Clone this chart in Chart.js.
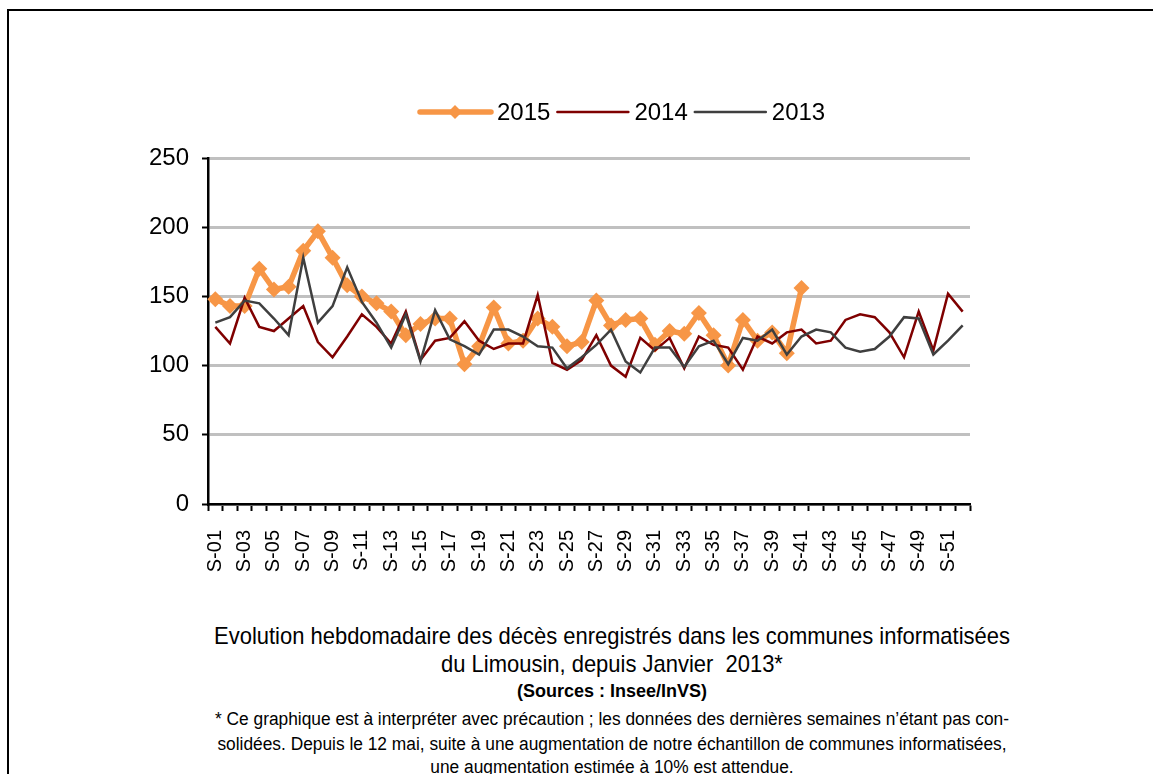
<!DOCTYPE html>
<html>
<head>
<meta charset="utf-8">
<script src="https://cdn.jsdelivr.net/npm/chart.js@4.4.1/dist/chart.umd.min.js"></script>
<style>
  html, body { margin: 0; padding: 0; background: #fff; }
  body { width: 1153px; height: 774px; position: relative; overflow: hidden; }
  #frame { position: absolute; left: 7px; top: 9px; width: 1160px; height: 800px;
           border-top: 2px solid #000; border-left: 2px solid #000; }
  #wrap { position: absolute; left: 0; top: 0; width: 1000px; height: 600px; }
  .txt { position: absolute; left: 112px; width: 1000px; text-align: center; color: #000;
         font-family: "Liberation Sans", Arial, sans-serif; white-space: nowrap;
         transform-origin: 50% 50%; }
  .t1 { font-size: 24px; transform: scaleX(0.915); }
  .src { font-size: 18px; font-weight: bold; transform: scaleX(1.0); }
  .note { font-size: 18px; transform: scaleX(0.963); }
</style>
</head>
<body>
<div id="frame"></div>
<div id="wrap"><canvas id="chart"></canvas></div>
<div class="txt t1" style="top:622px">Evolution hebdomadaire des décès enregistrés dans les communes informatisées</div>
<div class="txt t1" style="top:650px">du Limousin, depuis Janvier&nbsp; 2013*</div>
<div class="txt src" style="top:681px">(Sources : Insee/InVS)</div>
<div class="txt note" style="top:709px">* Ce graphique est à interpréter avec précaution ; les données des dernières semaines n’étant pas con-</div>
<div class="txt note" style="top:734px">solidées. Depuis le 12 mai, suite à une augmentation de notre échantillon de communes informatisées,</div>
<div class="txt note" style="top:757px">une augmentation estimée à 10% est attendue.</div>
<script>
// semaines S-01 .. S-52
const weeks = [];
for (let i = 1; i <= 52; i++) weeks.push('S-' + String(i).padStart(2, '0'));

const yTicks = [0, 50, 100, 150, 200, 250];

const deaths2015 = [148, 143, 143, 170, 155, 157, 183, 197, 178, 158, 150, 145, 139, 122, 130, 134, 134, 101,
  114, 142, 116, 118, 134, 128, 114, 117, 147, 129, 133, 134, 115, 125, 123, 138, 122, 100, 133, 118, 124, 109, 156];

const deaths2014 = [128, 116, 149, 128, 125, 134, 143, 117, 106, 121, 137, 128, 116, 139, 104, 118, 120, 132,
  118, 112, 116, 116, 151, 102, 97, 104, 122, 100, 92, 120, 111, 120, 98, 121, 115, 113, 97, 121, 116, 124,
  126, 116, 118, 133, 137, 135, 124, 106, 139, 111, 152, 139];

const deaths2013 = [131, 135, 147, 145, 134, 122, 178, 131, 143, 171, 146, 131, 113, 137, 103, 140, 119, 114,
  108, 126, 126, 121, 114, 113, 98, 106, 115, 126, 103, 95, 113, 113, 99, 114, 118, 101, 120, 118, 126, 108,
  121, 126, 124, 113, 110, 112, 121, 135, 134, 108, 118, 129];

// semaines 2015 pas encore connues -> null
const data2015 = weeks.map((w, i) => i < deaths2015.length ? deaths2015[i] : null);

const FONT = "'Liberation Sans', Arial, sans-serif";

// legende dessinee a la main (ligne + marqueur comme dans Excel)
const lineLegend = {
  id: 'lineLegend',
  afterDraw(chart) {
    const c = chart.ctx;
    const y = 112;
    let x = 420;
    c.save();
    c.font = '24px ' + FONT;
    c.textBaseline = 'middle';
    chart.data.datasets.forEach(ds => {
      c.strokeStyle = ds.borderColor;
      c.lineWidth = ds.borderWidth;
      c.lineCap = 'round';
      c.beginPath();
      c.moveTo(x, y);
      c.lineTo(x + 71, y);
      c.stroke();
      if (ds.pointRadius > 0) {
        c.fillStyle = ds.borderColor;
        c.beginPath();
        c.moveTo(x + 35, y - 7);
        c.lineTo(x + 42, y);
        c.lineTo(x + 35, y + 7);
        c.lineTo(x + 28, y);
        c.closePath();
        c.fill();
      }
      c.fillStyle = '#000';
      c.fillText(ds.label, x + 77, y + 1);
      x += 77 + c.measureText(ds.label).width + 7;
    });
    c.restore();
  }
};

const ctx = document.getElementById('chart').getContext('2d');
new Chart(ctx, {
  type: 'line',
  data: {
    labels: weeks,
    datasets: [
      {
        label: '2015',
        data: data2015,
        borderColor: '#F79646',
        backgroundColor: '#F79646',
        borderWidth: 5.5,
        pointStyle: 'rectRot',
        pointRadius: 8,
        pointBorderWidth: 0,
        tension: 0,
        spanGaps: false,
        order: 3,
      },
      {
        label: '2014',
        data: deaths2014,
        borderColor: '#7F0000',
        borderWidth: 2.5,
        pointRadius: 0,
        tension: 0,
        order: 2,
      },
      {
        label: '2013',
        data: deaths2013,
        borderColor: '#3F3F3F',
        borderWidth: 2.5,
        pointRadius: 0,
        tension: 0,
        order: 1,
      },
    ],
  },
  options: {
    responsive: true,
    maintainAspectRatio: false,
    animation: false,
    layout: { padding: { left: 148, right: 30, top: 158, bottom: 6 } },
    plugins: {
      legend: { display: false },
      tooltip: { enabled: false },
    },
    scales: {
      x: {
        offset: true,
        afterFit: s => { s.height = 90; s.paddingLeft = 0; s.paddingRight = 0; },
        border: { color: '#000', width: 2.5 },
        grid: { offset: true, drawOnChartArea: false, drawTicks: true, tickLength: 7, tickColor: '#000', tickWidth: 2 },
        ticks: {
          autoSkip: false,
          maxRotation: 90,
          minRotation: 90,
          padding: 19,
          color: '#000',
          font: { family: FONT, size: 20 },
          callback: function (v, i) { return i % 2 === 0 ? this.getLabelForValue(v) : ''; },
        },
      },
      y: {
        min: 0,
        max: 250,
        afterFit: s => { s.width = 60; },
        afterBuildTicks: s => { s.ticks = yTicks.map(v => ({ value: v })); },
        border: { color: '#000', width: 2.5 },
        grid: { color: '#C0C0C0', lineWidth: 3, tickLength: 6, tickColor: '#000', tickWidth: 2 },
        ticks: {
          padding: 13,
          color: '#000',
          font: { family: FONT, size: 24 },
        },
      },
    },
  },
  plugins: [lineLegend],
});
</script>
</body>
</html>
